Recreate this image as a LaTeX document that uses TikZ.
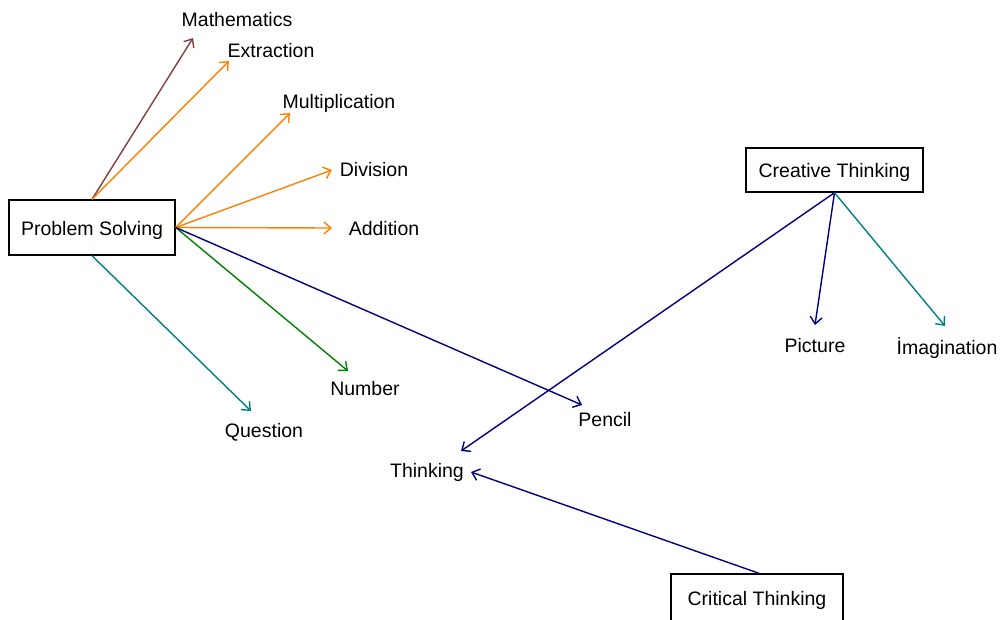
\documentclass[tikz,border=0pt]{standalone}
\usepackage{fontspec}
\setmainfont{Liberation Sans}
\usetikzlibrary{arrows.meta}
\definecolor{cbrown}{HTML}{804040}
\definecolor{corange}{HTML}{FF8000}
\definecolor{cgreen}{HTML}{008000}
\definecolor{cnavy}{HTML}{000080}
\definecolor{cteal}{HTML}{008080}
\begin{document}
\begin{tikzpicture}[x=1pt,y=-1pt,
  every node/.style={font=\fontsize{19.5}{23}\selectfont, inner sep=0pt},
  box/.style={draw=black, line width=1.4pt, minimum width=#1, fill=white, text height=15pt, text depth=0pt},
  lbl/.style={yshift=-2pt},
  link/.style={line width=1.4pt, -{Straight Barb[length=7pt,width=12pt,line width=1.4pt]}},
]
\useasboundingbox (0,0) rectangle (1002,619);
% boxes
\node[box=166pt, minimum height=55pt] (ps) at (92,227.5) {Problem Solving};
\node[box=177pt, minimum height=44pt] (ct) at (834.5,170) {Creative Thinking};
\node[box=172pt, minimum height=48pt] (cr) at (757,598) {Critical Thinking};
% labels
\node[lbl] (math) at (237,18) {Mathematics};
\node[lbl] (extr) at (271,49) {Extraction};
\node[lbl] (mult) at (339,101) {Multiplication};
\node[lbl] (divi) at (374,168) {Division};
\node[lbl] (addi) at (384,227) {Addition};
\node[lbl] (numb) at (365,387) {Number};
\node[lbl] (ques) at (264,430) {Question};
\node[lbl] (penc) at (605,418) {Pencil};
\node[lbl] (thin) at (427,470) {Thinking};
\node[lbl] (pict) at (815,344) {Picture};
\node[lbl] (imag) at (947,346) {İmagination};
% arrow tips
\coordinate (mathT) at (193,38);
\coordinate (extrT) at (229,61);
\coordinate (multT) at (290,113);
\coordinate (diviT) at (332,170);
\coordinate (addiT) at (332,228);
\coordinate (numbT) at (348,371);
\coordinate (quesT) at (251,411);
\coordinate (pencT) at (582,405);
\coordinate (thinT) at (461,451);
\coordinate (thinT2) at (471,472);
\coordinate (pictT) at (815,325);
\coordinate (imagT) at (945,326);
% connectors
\draw[link, cbrown] (ps.north) -- (mathT);
\draw[link, corange] (ps.north) -- (extrT);
\draw[link, corange] (ps.east) -- (multT);
\draw[link, corange] (ps.east) -- (diviT);
\draw[link, corange] (ps.east) -- (addiT);
\draw[link, cgreen] (ps.east) -- (numbT);
\draw[link, cnavy] (ps.east) -- (pencT);
\draw[link, cteal] (ps.south) -- (quesT);
\draw[link, cnavy] (ct.south) -- (thinT);
\draw[link, cnavy] (ct.south) -- (pictT);
\draw[link, cteal] (ct.south) -- (imagT);
\draw[link, cnavy] (cr.north) ++(2,0) coordinate (crN) (crN) -- (thinT2);
\end{tikzpicture}
\end{document}
